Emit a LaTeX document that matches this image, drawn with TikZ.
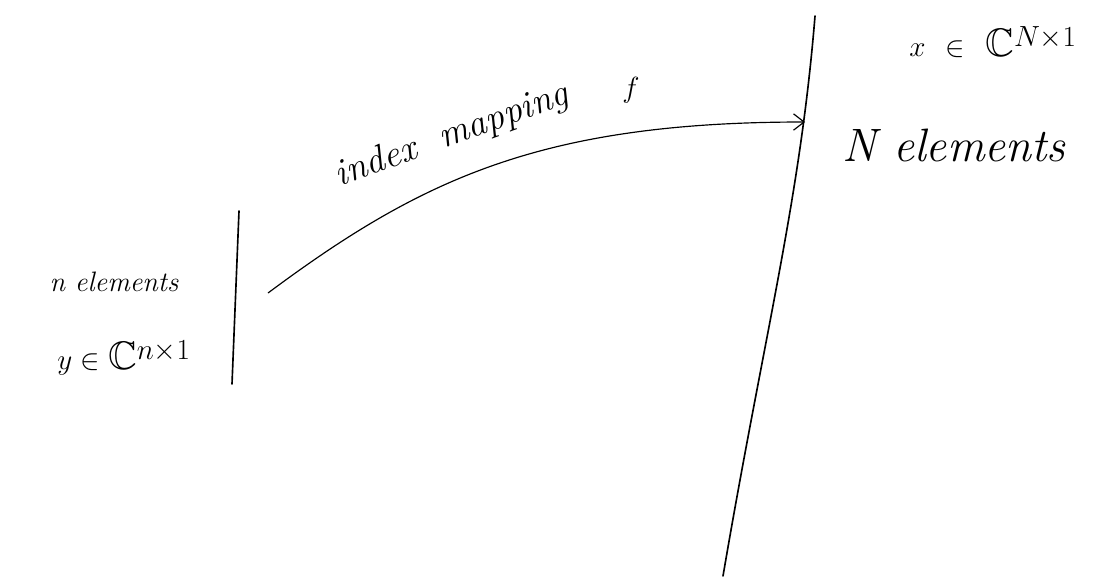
\documentclass[tikz,border=0pt]{standalone}
\usepackage{amssymb}
\usetikzlibrary{arrows.meta}
\begin{document}
\begin{tikzpicture}[x=0.03cm,y=-0.03cm,
  ink/.style={line width=1.4pt,line cap=round},
  hand/.style={inner sep=0pt,text=black},
  conn/.style={line width=1pt,-{Straight Barb[length=9pt,width=14pt]}}]
\useasboundingbox (0,0) rectangle (1099,576);
% short boundary (n elements)
\coordinate (st) at (239,211);
\coordinate (sb) at (232,384);
\draw[ink] (st) -- (sb);
% long boundary (N elements)
\coordinate (lt) at (815,16);
\coordinate (lb) at (723,576);
\draw[ink] (lt) .. controls (800,200) and (765,330) .. (lb);
% mapping arrow
\coordinate (as) at (268,293);
\coordinate (ae) at (805,122);
\draw[conn] (as) .. controls (420,180) and (540,122) .. (ae);
% labels
\node[hand,rotate=20] (lab) at (452,136) {\fontsize{32}{36}\selectfont\itshape index\ \ mapping};
\node[hand] (f) at (631,90) {\fontsize{34}{38}\selectfont$f$};
\node[hand] (nel) at (114,282) {\fontsize{24}{28}\selectfont\itshape n elements};
\node[hand] (y) at (124,358) {\fontsize{34}{38}\selectfont$y\in\mathbb{C}^{n\times1}$};
\node[hand] (x) at (993,42) {\fontsize{34}{38}\selectfont$x\ \in\ \mathbb{C}^{N\times1}$};
\node[hand] (Nel) at (954,145) {\fontsize{40}{46}\selectfont\itshape N elements};
\end{tikzpicture}
\end{document}
